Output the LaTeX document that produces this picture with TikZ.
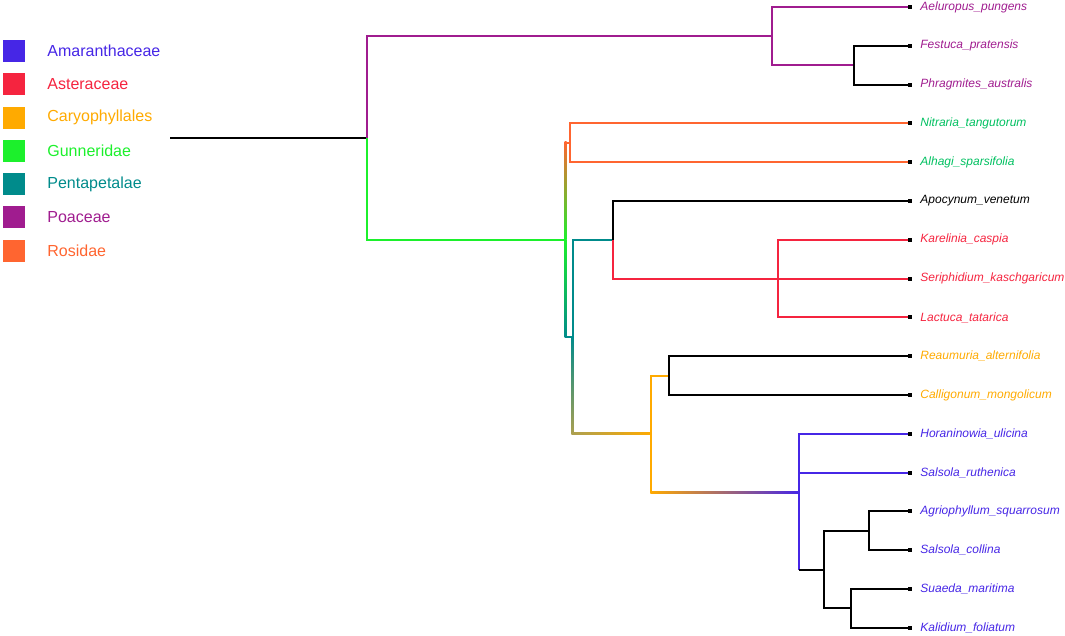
\documentclass[tikz,border=0pt]{standalone}
\usepackage{fontspec}
\setmainfont{Liberation Sans}
\usetikzlibrary{positioning,calc}
\definecolor{amaranth}{HTML}{4626E6}
\definecolor{aster}{HTML}{F5243F}
\definecolor{caryo}{HTML}{FFAA00}
\definecolor{gunner}{HTML}{1CF02C}
\definecolor{penta}{HTML}{008B8B}
\definecolor{poa}{HTML}{A01C8F}
\definecolor{rosid}{HTML}{FF6530}
\definecolor{tipgreen}{HTML}{00C060}
\definecolor{olivemix}{HTML}{ACA050}
\tikzset{
  branch/.style={line width=2pt},
  tipdot/.style={fill=black,inner sep=0pt,minimum size=4pt},
  tiplabel/.style={font=\fontsize{12}{14}\selectfont\itshape,inner sep=0pt,anchor=west},
  legbox/.style={minimum size=22pt,inner sep=0pt},
  leglabel/.style={font=\fontsize{16}{18}\selectfont,inner sep=0pt,anchor=west}
}

\begin{document}
\begin{tikzpicture}[x=1pt,y=-1pt]
  \useasboundingbox (0,0) rectangle (1065,636);
  % legend
  \foreach \name/\col [count=\i] in {Amaranthaceae/amaranth,Asteraceae/aster,
      Caryophyllales/caryo,Gunneridae/gunner,Pentapetalae/penta,Poaceae/poa,Rosidae/rosid}{
    \node[legbox,fill=\col] (box\i) at (14,{51+33.3*(\i-1)}) {};
    \node[leglabel,text=\col,right=22pt of box\i] (leg\i) {\name};
  }
  % tips
  \foreach \name/\col [count=\i] in {Aeluropus\_pungens/poa,Festuca\_pratensis/poa,
      Phragmites\_australis/poa,Nitraria\_tangutorum/tipgreen,Alhagi\_sparsifolia/tipgreen,
      Apocynum\_venetum/black,Karelinia\_caspia/aster,Seriphidium\_kaschgaricum/aster,
      Lactuca\_tatarica/aster,Reaumuria\_alternifolia/caryo,Calligonum\_mongolicum/caryo,
      Horaninowia\_ulicina/amaranth,Salsola\_ruthenica/amaranth,Agriophyllum\_squarrosum/amaranth,
      Salsola\_collina/amaranth,Suaeda\_maritima/amaranth,Kalidium\_foliatum/amaranth}{
    \node[tipdot] (tip\i) at (910,{7+38.8*(\i-1)}) {};
    \node[tiplabel,text=\col,right=8pt of tip\i] (lab\i) {\name};
  }
  % inner nodes
  \coordinate (stem) at (170,138);
  \coordinate (root) at (367,138);
  \coordinate (poaN) at (771.7,36.1);
  \coordinate (fesN) at (854.3,65.2);
  \coordinate (gunN) at (565.7,239.8);
  \coordinate (rosN) at (570,142.8);
  \coordinate (penN) at (572.7,336.8);
  \coordinate (apoN) at (612.7,239.8);
  \coordinate (astN) at (777.7,278.6);
  \coordinate (carN) at (651.3,433.8);
  \coordinate (reaN) at (669,375.6);
  \coordinate (amaN) at (798.7,492);
  \coordinate (cheN) at (824.3,569.6);
  \coordinate (agrN) at (868.7,530.8);
  \coordinate (suaN) at (851,608.4);
  % branches
  \draw[branch] (stem) -- (root);
  \draw[branch,poa] (root) |- (poaN);
  \draw[branch,gunner] (root) |- (gunN);
  \draw[branch,poa] (poaN) |- (tip1);
  \draw[branch,poa] (poaN) |- (fesN);
  \draw[branch] (fesN) |- (tip2);
  \draw[branch] (fesN) |- (tip3);
  \shade[top color=rosid,bottom color=gunner] ($(gunN)+(-1,0)$) rectangle ($(gunN|-rosN)+(1,-1)$);
  \draw[branch,rosid] (gunN|-rosN) -- (rosN);
  \draw[branch,rosid] (rosN) |- (tip4);
  \draw[branch,rosid] (rosN) |- (tip5);
  \shade[top color=gunner,bottom color=penta] ($(gunN)+(-1,0)$) rectangle ($(gunN|-penN)+(1,1)$);
  \draw[branch,penta] (gunN|-penN) -- (penN);
  \draw[branch,penta] (penN) |- (apoN);
  \draw[branch] (apoN) |- (tip6);
  \draw[branch,aster] (apoN) |- (astN);
  \foreach \i in {7,8,9}
    \draw[branch,aster] (astN) |- (tip\i);
  \shade[top color=penta,bottom color=olivemix] ($(penN)+(-1,0)$) rectangle ($(penN|-carN)+(1,1)$);
  \shade[left color=olivemix,right color=caryo] ($(penN|-carN)+(-1,-1)$) rectangle ($(carN)+(0,1)$);
  \draw[branch,caryo] (carN) |- (reaN);
  \draw[branch] (reaN) |- (tip10);
  \draw[branch] (reaN) |- (tip11);
  \draw[branch,caryo] (carN) -- (carN|-amaN);
  \shade[left color=caryo,right color=amaranth] ($(carN|-amaN)+(-1,-1)$) rectangle ($(amaN)+(0,1)$);
  \draw[branch,amaranth] (amaN) |- (tip12);
  \draw[branch,amaranth] (amaN) |- (tip13);
  \draw[branch,amaranth] (amaN) -- (amaN|-cheN);
  \draw[branch] (amaN|-cheN) -- (cheN);
  \draw[branch] (cheN) |- (agrN);
  \draw[branch] (cheN) |- (suaN);
  \draw[branch] (agrN) |- (tip14);
  \draw[branch] (agrN) |- (tip15);
  \draw[branch] (suaN) |- (tip16);
  \draw[branch] (suaN) |- (tip17);
\end{tikzpicture}
\end{document}
